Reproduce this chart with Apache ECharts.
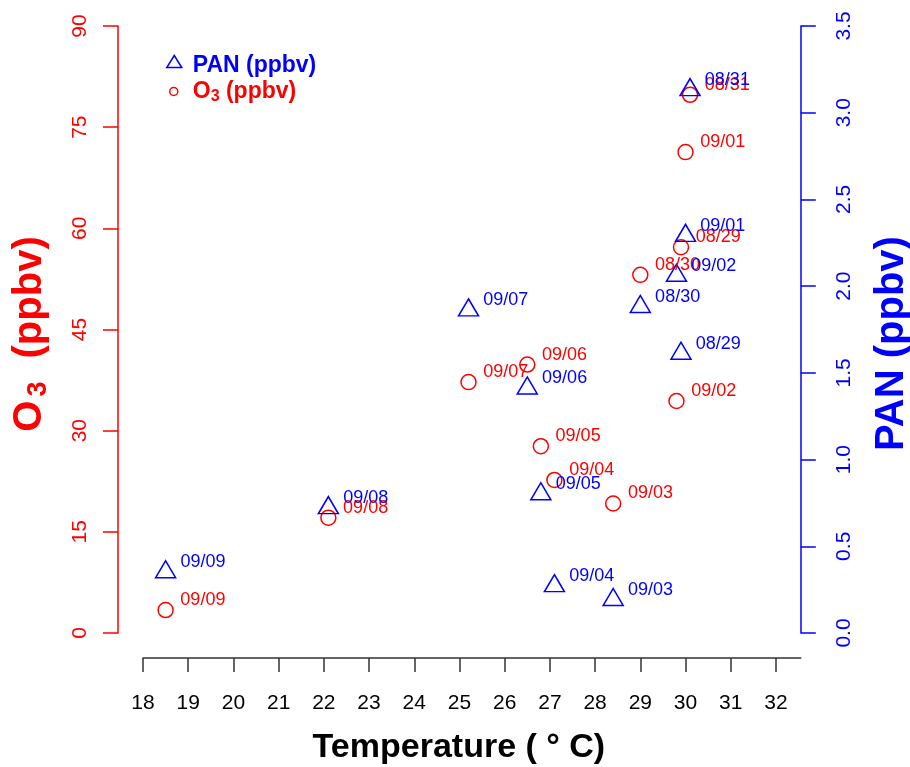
<!DOCTYPE html>
<html><head><meta charset="utf-8">
<script src="https://cdn.jsdelivr.net/npm/echarts@6/dist/echarts.min.js"></script>
<style>html,body{margin:0;padding:0;background:#fff}#c{width:910px;height:767px}</style>
</head><body><div id="c"></div>
<script>
// ---- data ----
const dates       = ['08/29','08/30','08/31','09/01','09/02','09/03','09/04','09/05','09/06','09/07','09/08','09/09'];
const temperature = [29.9, 29.0, 30.1, 30.0, 29.8, 28.4, 27.1, 26.8, 26.5, 25.2, 22.1, 18.5];
const o3          = [57.2, 53.1, 79.8, 71.3, 34.4, 19.2, 22.7, 27.7, 39.8, 37.2, 17.1, 3.4];
const pan         = [1.61, 1.88, 3.13, 2.29, 2.06, 0.19, 0.27, 0.80, 1.41, 1.86, 0.72, 0.35];
const xTicks      = [18,19,20,21,22,23,24,25,26,27,28,29,30,31,32];
const o3Axis      = {min: 0, max: 90, step: 15};
const panAxis     = {min: 0, max: 3.5, step: 0.5};

const FF = '"Liberation Sans", Arial, Helvetica, sans-serif';
const RED = '#ff0000', BLUE = '#0000ff';

const chart = echarts.init(document.getElementById('c'), null, {renderer: 'canvas'});
chart.setOption({
  animation: false,
  backgroundColor: '#ffffff',
  grid: {left: 143, right: 109.2, top: 26, bottom: 134, containLabel: false, outerBoundsMode: 'none'},
  legend: [
    {
      data: [{name: 'PAN (ppbv)', icon: 'triangle',
              itemStyle: {color: 'rgba(0,0,0,0)', borderColor: BLUE, borderWidth: 1.5, opacity: 1}}],
      left: 166, top: 54, padding: 0, itemWidth: 15, itemHeight: 12, selectedMode: false,
      formatter: name => '{t|' + name + '}',
      textStyle: {color: BLUE, fontSize: 23, fontWeight: 'bold', fontFamily: FF, padding: [0, 0, 0, 6],
        rich: {t: {fontSize: 23, fontWeight: 'bold', color: BLUE, fontFamily: FF, padding: [8, 0, 0, 0]}}}
    },
    {
      data: [{name: 'O3 (ppbv)', icon: 'circle',
              itemStyle: {color: 'rgba(0,0,0,0)', borderColor: RED, borderWidth: 1.5, opacity: 1}}],
      left: 169, top: 80, padding: 0, itemWidth: 8, itemHeight: 8, selectedMode: false,
      formatter: () => '{b|O}{s|3}{b| (ppbv)}',
      textStyle: {color: RED, fontSize: 23, fontWeight: 'bold', fontFamily: FF, padding: [0, 0, 0, 10],
        rich: {
          b: {fontSize: 23, fontWeight: 'bold', color: RED, fontFamily: FF},
          s: {fontSize: 16, fontWeight: 'bold', color: RED, fontFamily: FF, padding: [10, 0, 0, 0]}
        }}
    }
  ],
  xAxis: {
    type: 'value', min: 18, max: 32.55, position: 'bottom', offset: 25,
    axisLine: {show: true, onZero: false, lineStyle: {color: '#333', width: 1.5}},
    axisTick: {show: true, customValues: xTicks, length: 14, lineStyle: {color: '#333', width: 1.5}},
    axisLabel: {customValues: xTicks, margin: 35, color: '#000', fontSize: 21, fontFamily: FF},
    splitLine: {show: false},
    name: 'Temperature ( ° C)', nameLocation: 'middle', nameGap: 73,
    nameTextStyle: {color: '#000', fontSize: 34, fontWeight: 'bold', fontFamily: FF, padding: [0, 26, 0, 0]}
  },
  yAxis: [
    {
      type: 'value', position: 'left', offset: 25,
      min: o3Axis.min, max: o3Axis.max, interval: o3Axis.step,
      axisLine: {show: true, lineStyle: {color: RED, width: 1.5}},
      axisTick: {show: true, length: 15, lineStyle: {color: RED, width: 1.5}},
      axisLabel: {rotate: 90, margin: 27, color: RED, fontSize: 21, fontFamily: FF},
      splitLine: {show: false},
      name: '{b|O}{s|3}{b| (ppbv)}', nameLocation: 'middle', nameRotate: 90, nameGap: 66,
      nameTextStyle: {padding: [0, 9, 0, 0], rich: {
        b: {fontSize: 40, fontWeight: 'bold', color: RED, fontFamily: FF},
        s: {fontSize: 27, fontWeight: 'bold', color: RED, fontFamily: FF, padding: [18, 12, 0, 4]}
      }}
    },
    {
      type: 'value', position: 'right', offset: 0,
      min: panAxis.min, max: panAxis.max, interval: panAxis.step,
      axisLine: {show: true, lineStyle: {color: BLUE, width: 1.5}},
      axisTick: {show: true, length: 15, lineStyle: {color: BLUE, width: 1.5}},
      axisLabel: {rotate: 90, margin: 33, color: BLUE, fontSize: 21, fontFamily: FF,
                  formatter: v => v.toFixed(1)},
      splitLine: {show: false},
      name: 'PAN (ppbv)', nameLocation: 'middle', nameRotate: 90, nameGap: 71,
      nameTextStyle: {color: BLUE, fontSize: 40, fontWeight: 'bold', fontFamily: FF, padding: [0, 28, 0, 0]}
    }
  ],
  series: [
    {
      type: 'scatter', name: 'O3 (ppbv)', yAxisIndex: 0,
      data: temperature.map((t, i) => [t, o3[i]]),
      symbol: 'circle', symbolSize: 15,
      itemStyle: {color: 'rgba(0,0,0,0)', borderColor: RED, borderWidth: 1.5, opacity: 1},
      label: {show: true, position: 'right', distance: 6.5, offset: [0, -10],
              formatter: p => dates[p.dataIndex], color: RED, fontSize: 18, fontFamily: FF, opacity: 1},
      emphasis: {disabled: true}
    },
    {
      type: 'scatter', name: 'PAN (ppbv)', yAxisIndex: 1,
      data: temperature.map((t, i) => [t, pan[i]]),
      symbol: 'triangle', symbolSize: [20, 17], symbolOffset: [0, -3],
      itemStyle: {color: 'rgba(0,0,0,0)', borderColor: BLUE, borderWidth: 1.5, opacity: 1},
      label: {show: true, position: 'right', distance: 4, offset: [0, -7],
              formatter: p => dates[p.dataIndex], color: BLUE, fontSize: 18, fontFamily: FF, opacity: 1},
      emphasis: {disabled: true}
    }
  ]
});
</script>
</body></html>
